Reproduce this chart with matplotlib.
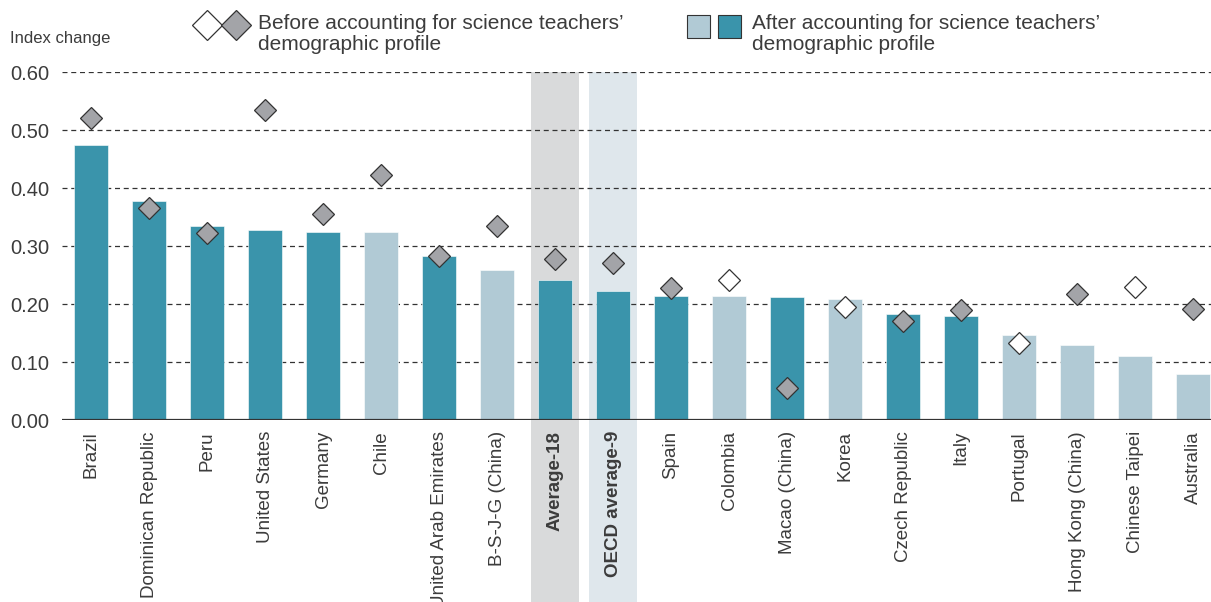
import matplotlib
matplotlib.use("Agg")
import matplotlib.pyplot as plt
import matplotlib.transforms as mtransforms
from matplotlib.patches import Rectangle

plt.rcParams['font.family'] = ['Liberation Sans', 'DejaVu Sans']

countries = ["Brazil", "Dominican Republic", "Peru", "United States", "Germany", "Chile",
             "United Arab Emirates", "B-S-J-G (China)", "Average-18", "OECD average-9",
             "Spain", "Colombia", "Macao (China)", "Korea", "Czech Republic", "Italy",
             "Portugal", "Hong Kong (China)", "Chinese Taipei", "Australia"]
after = [0.474, 0.377, 0.334, 0.327, 0.324, 0.324, 0.282, 0.259, 0.241, 0.222,
         0.214, 0.214, 0.212, 0.209, 0.182, 0.179, 0.147, 0.129, 0.110, 0.079]
before = [0.520, 0.366, 0.322, 0.534, 0.356, 0.422, 0.282, 0.334, 0.277, 0.270,
          0.228, 0.241, 0.055, 0.194, 0.171, 0.189, 0.133, 0.218, 0.229, 0.192]
# 1 = significant (dark bar / grey diamond), 0 = not significant
after_sig = [1, 1, 1, 1, 1, 0, 1, 0, 1, 1, 1, 0, 1, 0, 1, 1, 0, 0, 0, 0]
before_sig = [1, 1, 1, 1, 1, 1, 1, 1, 1, 1, 1, 0, 1, 0, 1, 1, 0, 1, 0, 1]
yticks = [0.0, 0.1, 0.2, 0.3, 0.4, 0.5, 0.6]

dark = "#3a94ab"
light = "#b1cad5"
grey = "#a3a4a8"
txt = "#333333"
lab_col = "#3c3c3c"

fig = plt.figure(figsize=(12.11, 6.02), dpi=100)
ax = fig.add_axes([62 / 1211, 1 - 420 / 602, 1 - 62 / 1211, (420 - 72) / 602])

x = list(range(len(countries)))

# shaded bands for the averages, running down through the labels
trans = mtransforms.blended_transform_factory(ax.transData, fig.transFigure)
for idx, col in [(8, "#d9dadb"), (9, "#dfe7ec")]:
    ax.add_patch(Rectangle((idx - 0.42, 0), 0.84, 1 - 72 / 602, transform=trans,
                           facecolor=col, edgecolor="none", zorder=0, clip_on=False))

for y in yticks[1:]:
    ax.axhline(y, color=txt, lw=0.9, ls=(0, (4, 3)), zorder=1)

bar_cols = [dark if s else light for s in after_sig]
ax.bar(x, after, width=0.58, color=bar_cols, edgecolor="white", linewidth=0.4, zorder=2)

for xi, b, s in zip(x, before, before_sig):
    ax.plot(xi, b, marker="D", ms=11.5, mfc=grey if s else "white", mec=txt, mew=0.9,
            ls="none", zorder=3)

ax.axhline(0, color=txt, lw=1.6, zorder=4)

ax.set_xlim(-0.5, 19.31)
ax.set_ylim(0, 0.6)
ax.set_yticks(yticks)
ax.set_yticklabels(["%.2f" % v for v in yticks], fontsize=14.5, color=lab_col)
ax.tick_params(axis="y", length=0, pad=9)
ax.set_xticks(x)
ax.set_xticklabels(countries, rotation=90, fontsize=13.5, color=lab_col)
ax.tick_params(axis="x", length=0, pad=8)
for lab, name in zip(ax.get_xticklabels(), countries):
    if "average" in name.lower():
        lab.set_fontweight("bold")
for sp in ax.spines.values():
    sp.set_visible(False)

fig.text(10 / 1211, 1 - 38 / 602, "Index change", fontsize=12, color=lab_col, va="center")

# legend
lax = fig.add_axes([0, 0, 1, 1], zorder=5)
lax.set_xlim(0, 1211)
lax.set_ylim(602, 0)
lax.axis("off")
lax.plot([207], [25], marker="D", ms=15, mfc="white", mec=txt, mew=0.9, ls="none")
lax.plot([236], [25], marker="D", ms=15, mfc=grey, mec=txt, mew=0.9, ls="none")
lax.text(258, 14, "Before accounting for science teachers’\ndemographic profile",
         fontsize=15, color=lab_col, va="top", linespacing=1.12)
lax.add_patch(Rectangle((687, 15), 23, 23, facecolor=light, edgecolor=txt, lw=0.8))
lax.add_patch(Rectangle((718, 15), 23, 23, facecolor=dark, edgecolor=txt, lw=0.8))
lax.text(752, 14, "After accounting for science teachers’\ndemographic profile",
         fontsize=15, color=lab_col, va="top", linespacing=1.12)

fig.savefig("out.png", dpi=100)
